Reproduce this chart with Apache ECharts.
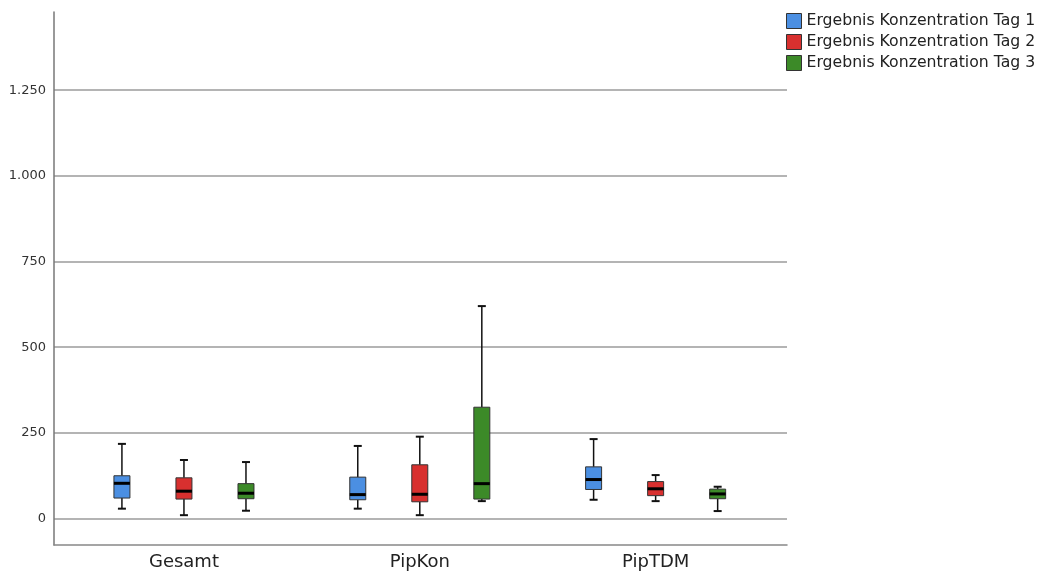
<!DOCTYPE html>
<html>
<head>
<meta charset="utf-8">
<script src="https://cdn.jsdelivr.net/npm/echarts@6/dist/echarts.min.js"></script>
<style>html,body{margin:0;padding:0;background:#fff;}#c{width:1044px;height:576px;}</style>
</head>
<body>
<div id="c"></div>
<script>
// Categories and tick labels
const categories = ['Gesamt', 'PipKon', 'PipTDM'];
const yTicks = [0, 250, 500, 750, 1000, 1250];
const seriesNames = ['Ergebnis Konzentration Tag 1', 'Ergebnis Konzentration Tag 2', 'Ergebnis Konzentration Tag 3'];

// Box values per category: [min, Q1, median, Q3, max]
const tag1 = [
  [29, 60, 103, 125, 218],
  [29, 55, 70, 121, 212],
  [55, 85, 114, 151, 232]
];
const tag2 = [
  [10, 57, 80, 119, 171],
  [10, 49, 71, 157, 239],
  [51, 67, 87, 108, 127]
];
const tag3 = [
  [23, 58, 74, 102, 165],
  [51, 57, 102, 325, 620],
  [22, 58, 72, 86, 93]
];

const colors = ['#4b8fe2', '#d8302f', '#3c8a28'];
const groupOffsets = [-0.263, 0, 0.263];

function fmt(v) {
  return String(v).replace(/\B(?=(\d{3})+(?!\d))/g, '.');
}

function makeSeries(name, values, idx) {
  const data = values.map((v, i) => [i].concat(v));
  return {
    name: name,
    type: 'custom',
    itemStyle: { color: colors[idx] },
    encode: { x: 0, y: [1, 2, 3, 4, 5] },
    data: data,
    renderItem: function (params, api) {
      const x = api.value(0) + groupOffsets[idx];
      const c = api.coord([x, 0])[0];
      const yMin = api.coord([x, api.value(1)])[1];
      const yQ1 = api.coord([x, api.value(2)])[1];
      const yMed = api.coord([x, api.value(3)])[1];
      const yQ3 = api.coord([x, api.value(4)])[1];
      const yMax = api.coord([x, api.value(5)])[1];
      const hw = 8, cw = 4;
      return {
        type: 'group',
        children: [
          { type: 'line', shape: { x1: c, y1: yMax, x2: c, y2: yQ3 }, style: { stroke: '#111', lineWidth: 1.5 } },
          { type: 'line', shape: { x1: c, y1: yQ1, x2: c, y2: yMin }, style: { stroke: '#111', lineWidth: 1.5 } },
          { type: 'line', shape: { x1: c - cw, y1: yMax, x2: c + cw, y2: yMax }, style: { stroke: '#111', lineWidth: 2 } },
          { type: 'line', shape: { x1: c - cw, y1: yMin, x2: c + cw, y2: yMin }, style: { stroke: '#111', lineWidth: 2 } },
          { type: 'rect', shape: { x: c - hw, y: yQ3, width: 2 * hw, height: yQ1 - yQ3 }, style: { fill: colors[idx], stroke: '#333', lineWidth: 1 } },
          { type: 'line', shape: { x1: c - hw, y1: yMed, x2: c + hw, y2: yMed }, style: { stroke: '#000', lineWidth: 3 } }
        ]
      };
    }
  };
}

const chart = echarts.init(document.getElementById('c'), null, { renderer: 'canvas' });
chart.setOption({
  animation: false,
  backgroundColor: '#fff',
  textStyle: { fontFamily: 'DejaVu Sans' },
  legend: {
    orient: 'vertical',
    left: 786,
    top: 13,
    padding: 0,
    itemWidth: 15,
    itemHeight: 15,
    itemGap: 5,
    icon: 'rect',
    itemStyle: { borderColor: '#333', borderWidth: 1 },
    textStyle: { fontSize: 15.7, color: '#222', fontFamily: 'DejaVu Sans' },
    data: seriesNames
  },
  grid: { left: 54, right: 257, top: 12, bottom: 31, containLabel: false },
  xAxis: {
    type: 'value',
    min: -0.551,
    max: 2.557,
    axisLine: { show: true, onZero: false, lineStyle: { color: '#888', width: 1.5 } },
    axisTick: { show: false },
    splitLine: { show: false },
    axisLabel: {
      customValues: [0, 1, 2],
      formatter: v => categories[Math.round(v)],
      fontSize: 18,
      color: '#222',
      margin: 8,
      fontFamily: 'DejaVu Sans'
    }
  },
  yAxis: {
    type: 'value',
    min: -77,
    max: 1478,
    axisLine: { show: true, onZero: false, lineStyle: { color: '#777', width: 1.5 } },
    axisTick: { show: false, customValues: yTicks },
    axisLabel: {
      customValues: yTicks,
      formatter: v => fmt(v),
      fontSize: 13,
      color: '#333',
      margin: 8,
      fontFamily: 'DejaVu Sans'
    },
    splitLine: { show: true, lineStyle: { color: '#b4b4b4', width: 2 } }
  },
  series: [
    makeSeries(seriesNames[0], tag1, 0),
    makeSeries(seriesNames[1], tag2, 1),
    makeSeries(seriesNames[2], tag3, 2)
  ]
});
</script>
</body>
</html>
